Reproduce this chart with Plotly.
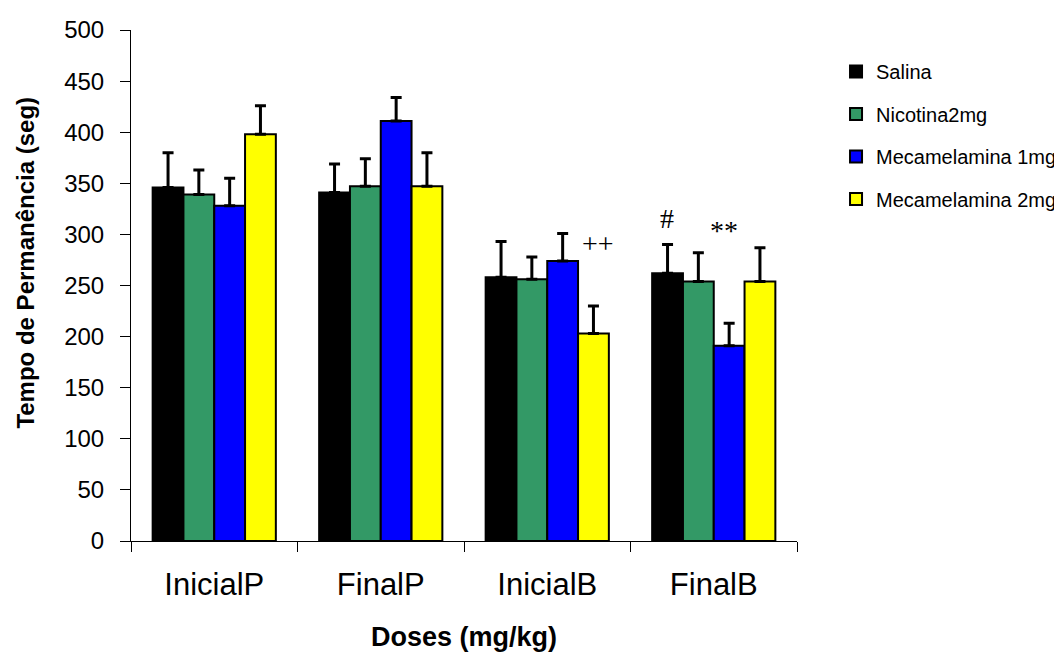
import plotly.graph_objects as go

categories = ["InicialP", "FinalP", "InicialB", "FinalB"]
series_names = ["Salina", "Nicotina2mg", "Mecamelamina 1mg", "Mecamelamina 2mg"]
colors = ["#000000", "#339966", "#0000FF", "#FFFF00"]

salina = [346, 341, 258, 262]
salina_err = [34, 28, 35, 28]
nicotina = [339, 347, 256, 254]
nicotina_err = [24, 27, 22, 28]
meca1 = [328, 411, 274, 191]
meca1_err = [27, 23, 27, 22]
meca2 = [398, 347, 203, 254]
meca2_err = [28, 33, 27, 33]

values = [salina, nicotina, meca1, meca2]
errors = [salina_err, nicotina_err, meca1_err, meca2_err]

# significance marks: (text, category, y value, x shift px)
marks = [("++", "InicialB", 291, 51), ("#", "FinalB", 316, -47), ("**", "FinalB", 304, 10)]

y_title = "<b>Tempo de Permanência (seg)</b>"
x_title = "<b>Doses (mg/kg)</b>"

fig = go.Figure()
for name, col, v, e in zip(series_names, colors, values, errors):
    fig.add_trace(go.Bar(
        name=name, x=categories, y=v,
        marker=dict(color=col, line=dict(color="black", width=2)),
        error_y=dict(type="data", symmetric=False, array=e, arrayminus=[0] * len(e),
                     color="black", thickness=3, width=5.5),
        legendgroup=name,
    ))

for txt, cat, yv, xs in marks:
    fig.add_annotation(x=cat, y=yv, text=txt, showarrow=False, xshift=xs,
                       font=dict(family="Liberation Serif, Times New Roman, serif", size=28, color="#000000"))

# y-axis title (placed slightly above the plot centre, as in the original)
fig.add_annotation(xref="paper", yref="paper", x=-0.159, y=0.545, text=y_title,
                   textangle=-90, showarrow=False, xanchor="center", yanchor="middle",
                   font=dict(size=24, family="Liberation Sans, Arial", color="black"))

fig.update_layout(
    width=1054, height=644,
    margin=dict(l=123, r=265, t=22, b=111, autoexpand=False),
    paper_bgcolor="white", plot_bgcolor="white",
    barmode="group", bargap=0.26, bargroupgap=0,
    font=dict(family="Liberation Sans, Arial, sans-serif", color="black"),
    showlegend=True,
    legend=dict(x=1.0586, y=0.957, xanchor="left", yanchor="top",
                font=dict(size=20, family="Liberation Sans, Arial, sans-serif"),
                tracegroupgap=13.5, bgcolor="rgba(0,0,0,0)"),
)
fig.update_xaxes(
    type="category", showline=True, linecolor="black", linewidth=1,
    ticks="outside", tickson="boundaries", ticklen=10, tickcolor="black",
    tickfont=dict(size=31, family="Liberation Sans, Arial"),
    ticklabelstandoff=16, automargin=False,
    title=dict(text=x_title, font=dict(size=27, family="Liberation Sans, Arial"), standoff=26),
    showgrid=False,
)
fig.update_yaxes(
    range=[0, 500], dtick=50, showline=True, linecolor="black", linewidth=1,
    ticks="outside", ticklen=10, tickcolor="black",
    tickfont=dict(size=24, family="Liberation Sans, Arial"),
    ticklabelstandoff=11, automargin=False,
    showgrid=False, zeroline=False,
)

fig.write_html("out.html")
